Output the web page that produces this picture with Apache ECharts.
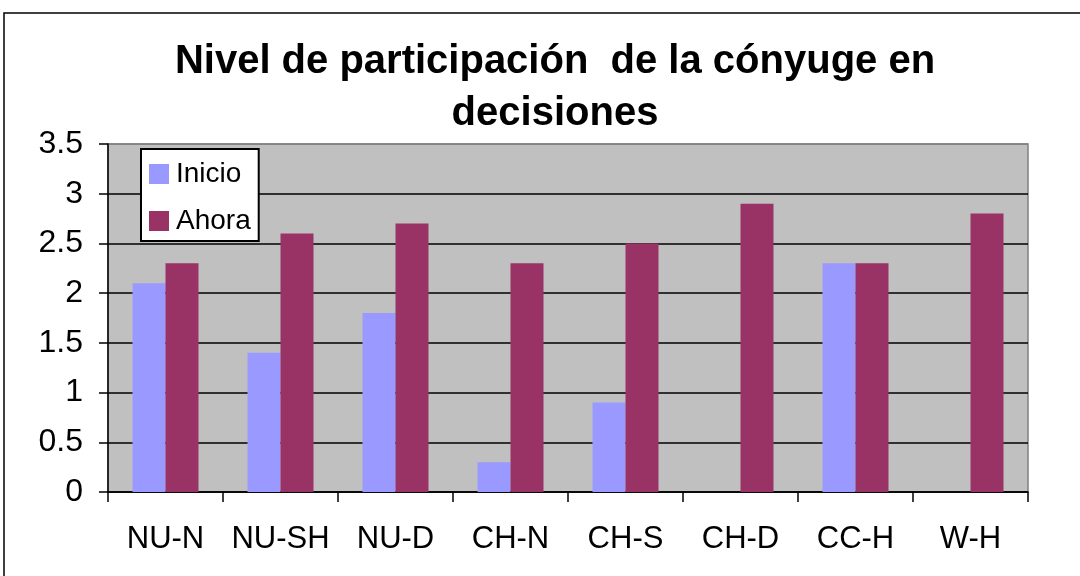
<!DOCTYPE html>
<html lang="es">
<head>
    <meta charset="utf-8">
    <title>Nivel de participación de la cónyuge en decisiones</title>
    <script src="https://cdn.jsdelivr.net/npm/echarts@6/dist/echarts.min.js"></script>
    <style>
        html, body { margin: 0; padding: 0; background: #fff; }
    </style>
</head>
<body>
<div id="main" style="width:1080px;height:576px;"></div>
<script type="text/javascript">
    // datos
    var categorias = ['NU-N', 'NU-SH', 'NU-D', 'CH-N', 'CH-S', 'CH-D', 'CC-H', 'W-H'];
    var inicio = [2.1, 1.4, 1.8, 0.3, 0.9, 0, 2.3, 0];
    var ahora = [2.3, 2.6, 2.7, 2.3, 2.5, 2.9, 2.3, 2.8];
    var ticksY = [0, 0.5, 1, 1.5, 2, 2.5, 3, 3.5];
    var titulo = 'Nivel de participación  de la cónyuge en\ndecisiones';

    var fuente = "'Liberation Sans', Arial, sans-serif";
    var myChart = echarts.init(document.getElementById('main'));

    // la linea de 3.5 coincide con el borde gris del area de trazado
    var coloresRejilla = ticksY.map(function (v, i) {
        return i === ticksY.length - 1 ? '#808080' : '#000';
    });

    var option = {
        animation: false,
        backgroundColor: '#fff',
        legend: {
            data: ['Inicio', 'Ahora'],
            orient: 'vertical',
            left: 141,
            top: 149,
            backgroundColor: '#fff',
            borderColor: '#000',
            borderWidth: 2,
            borderRadius: 0,
            padding: [11, 8, 6, 8],
            itemWidth: 20,
            itemHeight: 20,
            itemGap: 19,
            icon: 'rect',
            textStyle: { fontFamily: fuente, fontSize: 28, color: '#000', padding: [0, 0, 0, 2] }
        },
        grid: {
            left: 108,
            right: 52,
            top: 144,
            bottom: 84,
            show: true,
            backgroundColor: '#c0c0c0',
            borderColor: '#808080',
            borderWidth: 1.5
        },
        graphic: [
            {
                type: 'rect',
                shape: { x: 4, y: 13, width: 1100, height: 600 },
                style: { fill: 'none', stroke: '#000', lineWidth: 1.5 },
                silent: true
            },
            {
                // titulo centrado sobre el area de trazado
                type: 'text',
                x: 555,
                y: 36,
                silent: true,
                style: {
                    text: titulo,
                    textAlign: 'center',
                    fontFamily: fuente,
                    fontSize: 40,
                    fontWeight: 'bold',
                    lineHeight: 52,
                    fill: '#000'
                }
            }
        ],
        xAxis: {
            type: 'category',
            data: categorias,
            axisLine: { lineStyle: { color: '#000', width: 1.5 } },
            axisTick: { show: true, interval: 0, length: 10, lineStyle: { color: '#000', width: 1.5 } },
            axisLabel: { interval: 0, fontFamily: fuente, fontSize: 31, color: '#000', margin: 32 },
            splitLine: { show: false }
        },
        yAxis: {
            type: 'value',
            min: ticksY[0],
            max: ticksY[ticksY.length - 1],
            interval: 0.5,
            axisLine: { show: true, lineStyle: { color: '#000', width: 1.5 } },
            axisTick: { show: true, length: 9, lineStyle: { color: '#000', width: 1.5 } },
            axisLabel: { fontFamily: fuente, fontSize: 32, color: '#000', margin: 25 },
            splitLine: { show: true, lineStyle: { color: coloresRejilla, width: 1.5 } }
        },
        series: [
            {
                name: 'Inicio',
                type: 'bar',
                data: inicio,
                barWidth: 33,
                barGap: 0,
                itemStyle: { color: '#9999ff' }
            },
            {
                name: 'Ahora',
                type: 'bar',
                data: ahora,
                barWidth: 33,
                barGap: 0,
                itemStyle: { color: '#993366' }
            }
        ]
    };
    myChart.setOption(option);
</script>
</body>
</html>
